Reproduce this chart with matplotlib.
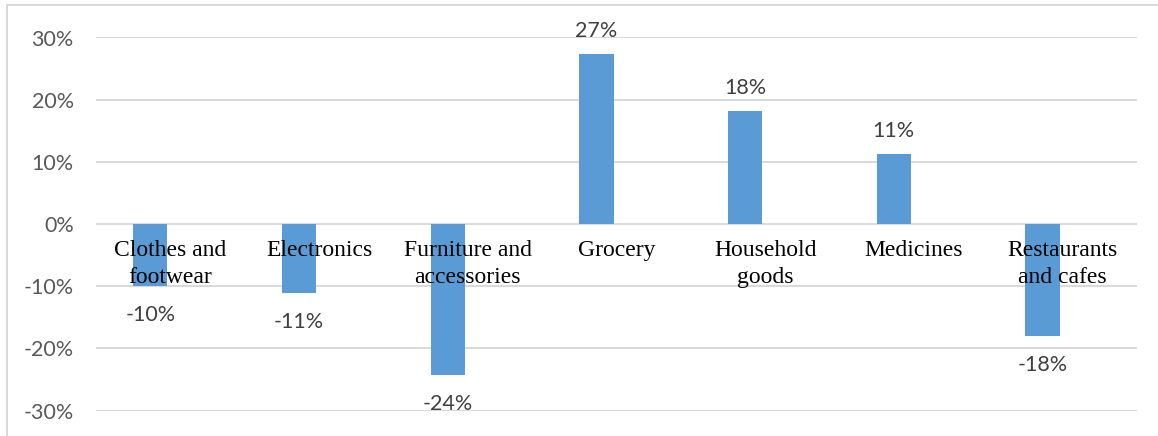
import matplotlib
matplotlib.use("Agg")
import matplotlib.pyplot as plt
from matplotlib.lines import Line2D
from matplotlib.ticker import FuncFormatter

plt.rcParams["axes.unicode_minus"] = False

categories = ["Clothes and\nfootwear", "Electronics", "Furniture and\naccessories",
              "Grocery", "Household\ngoods", "Medicines", "Restaurants\nand cafes"]
values = [-0.100, -0.111, -0.243, 0.274, 0.182, 0.112, -0.180]
labels = ["-10%", "-11%", "-24%", "27%", "18%", "11%", "-18%"]
yticks = [-0.3, -0.2, -0.1, 0.0, 0.1, 0.2, 0.3]

W, H = 1158, 436
fig = plt.figure(figsize=(W / 100, H / 100), dpi=100)
ax = fig.add_axes([96 / W, (H - 410.5) / H, (1137 - 96) / W, (410.5 - 37.5) / H])

bar_color = "#5b9bd5"
grid_color = "#d9d9d9"
num_font = "Lato"

x = list(range(len(categories)))
bar_offset = -0.135
bar_width = 0.23
xs = [i + bar_offset for i in x]
bars = ax.bar(xs, values, width=bar_width, color=bar_color, zorder=3)

ax.set_xlim(-0.5, len(categories) - 0.5)
ax.set_ylim(-0.3, 0.3)
ax.set_yticks(yticks)
ax.yaxis.set_major_formatter(FuncFormatter(lambda v, p: f"{v*100:.0f}%".replace("\u2212", "-")))
ax.set_xticks([])
ax.tick_params(axis="y", length=0, pad=16, labelsize=15.5, labelcolor="#595959",
               labelfontfamily=num_font)
for s in ax.spines.values():
    s.set_visible(False)
ax.grid(axis="y", color=grid_color, linewidth=1.4, zorder=0)
ax.set_axisbelow(True)

# data labels
for xi, v, lab in zip(xs, values, labels):
    off = 23 if v >= 0 else -29
    ax.annotate(lab, (xi, v), xytext=(0, off * 0.72), textcoords="offset points",
                ha="center", va="center", fontsize=15.5, fontfamily=num_font,
                color="#404040", zorder=4)

# category labels just below the zero line
for xi, cat in zip(x, categories):
    ax.annotate(cat, (xi, 0), xytext=(0, -16 * 0.72), textcoords="offset points",
                ha="center", va="top", fontsize=17, fontfamily="Liberation Serif",
                color="black", linespacing=1.35, zorder=5)

# chart frame (top and left visible)
fig.add_artist(Line2D([7 / W, 1.0], [1 - 5 / H, 1 - 5 / H], transform=fig.transFigure,
                      color=grid_color, linewidth=1.4))
fig.add_artist(Line2D([7 / W, 7 / W], [0.0, 1 - 5 / H], transform=fig.transFigure,
                      color=grid_color, linewidth=1.4))

fig.savefig("out.png", dpi=100, facecolor="white")
